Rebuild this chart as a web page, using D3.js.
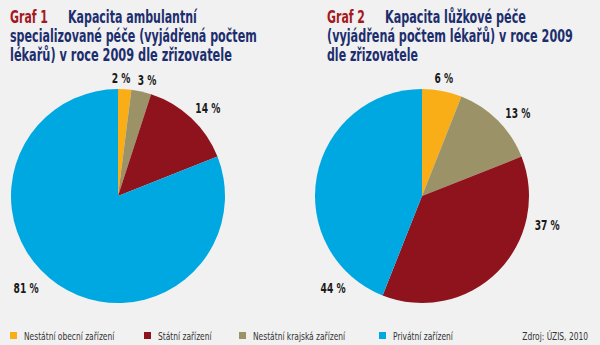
<!DOCTYPE html>
<html><head><meta charset="utf-8">
<script src="https://cdn.jsdelivr.net/npm/d3@7"></script>
<style>
html,body{margin:0;padding:0;background:#f1f1f1;}
svg{display:block;}
</style></head>
<body>
<script>
const categories = ["Nestátní obecní zařízení", "Státní zařízení", "Nestátní krajská zařízení", "Privátní zařízení"];
const colors = ["#f9ae18", "#8f131c", "#9b9367", "#00a8e1"];
// drawing order clockwise from top: obecní, krajská, státní, privátní
const sliceOrder = [0, 2, 1, 3];
const graf1Values = [2, 14, 3, 81];
const graf2Values = [6, 37, 13, 44];
const graf1Title = ["Kapacita ambulantní", "specializované péče (vyjádřená počtem", "lékařů) v roce 2009 dle zřizovatele"];
const graf2Title = ["Kapacita lůžkové péče", "(vyjádřená počtem lékařů) v roce 2009", "dle zřizovatele"];
const source = "Zdroj: ÚZIS, 2010";

// layout: label angle (degrees, clockwise from top) and radius per drawn slice
const graf1LabelAngles = [1.5, 14, 45.5, 225];
const graf1LabelRadii = [118, 120, 126, 130];
const graf2LabelAngles = [10.5, 49, 103, 224];
const graf2LabelRadii = [120, 127, 128.5, 128];
// layout: title line widths (px) to mimic the condensed typeface
const graf1TitleWidths = [38, 129, 247, 222];
const graf2TitleWidths = [38, 141, 246, 91];

const W = 600, H = 345;
const svg = d3.select("body").append("svg").attr("width", W).attr("height", H);
svg.append("rect").attr("width", W).attr("height", H).attr("fill", "#f1f1f1");

const cond = "'DejaVu Sans Condensed','Liberation Sans Narrow',sans-serif";

function fitText(sel, x, y, w) {
  const natural = sel.node().getComputedTextLength();
  sel.attr("transform", `translate(${x},${y}) scale(${w / natural},1)`);
}

function drawTitle(x, num, lines, widths) {
  const g = svg.append("g").attr("font-family", cond).attr("font-weight", "bold").attr("font-size", 17);
  const t0 = g.append("text").attr("fill", "#a3191f").text("Graf " + num);
  fitText(t0, x, 23, widths[0]);
  lines.forEach((l, i) => {
    const t = g.append("text").attr("fill", "#1d2e6e").text(l);
    fitText(t, i === 0 ? x + 58 : x, 23 + i * 19, widths[i + 1]);
  });
}
drawTitle(10, 1, graf1Title, graf1TitleWidths);
drawTitle(327, 2, graf2Title, graf2TitleWidths);

const R = 107;
const pie = d3.pie().sort(null).value(d => d.v);
const arc = d3.arc().innerRadius(0).outerRadius(R);

function drawPie(cx, cy, values, labelAngles, labelRadii) {
  const data = sliceOrder.map(i => ({ cat: i, v: values[i] }));
  const arcs = pie(data);
  const g = svg.append("g").attr("transform", `translate(${cx},${cy})`);
  g.selectAll("path").data(arcs).join("path")
    .attr("d", arc).attr("fill", d => colors[d.data.cat]);
  g.selectAll("text").data(arcs).join("text")
    .attr("transform", (d, i) => {
      const [x, y] = d3.pointRadial(labelAngles[i] * Math.PI / 180, labelRadii[i]);
      return `translate(${x},${y}) scale(0.7,1)`;
    })
    .attr("text-anchor", "middle").attr("dy", "0.36em")
    .attr("font-family", cond).attr("font-weight", "bold").attr("font-size", 14.5)
    .attr("fill", "#1a1a1a")
    .text(d => d.data.v + " %");
}
drawPie(118, 196, graf1Values, graf1LabelAngles, graf1LabelRadii);
drawPie(422, 196, graf2Values, graf2LabelAngles, graf2LabelRadii);

// legend
const legX = [10, 144, 239, 379];
const lg = svg.append("g").attr("font-family", cond).attr("font-size", 11).attr("fill", "#333");
categories.forEach((c, i) => {
  lg.append("rect").attr("x", legX[i]).attr("y", 332).attr("width", 7).attr("height", 7).attr("fill", colors[i]);
  lg.append("text").attr("transform", `translate(${legX[i] + 14},339.5) scale(0.76,1)`).text(c);
});
lg.append("text").attr("transform", "translate(588,339.5) scale(0.76,1)").attr("text-anchor", "end").text(source);
</script>
</body></html>
